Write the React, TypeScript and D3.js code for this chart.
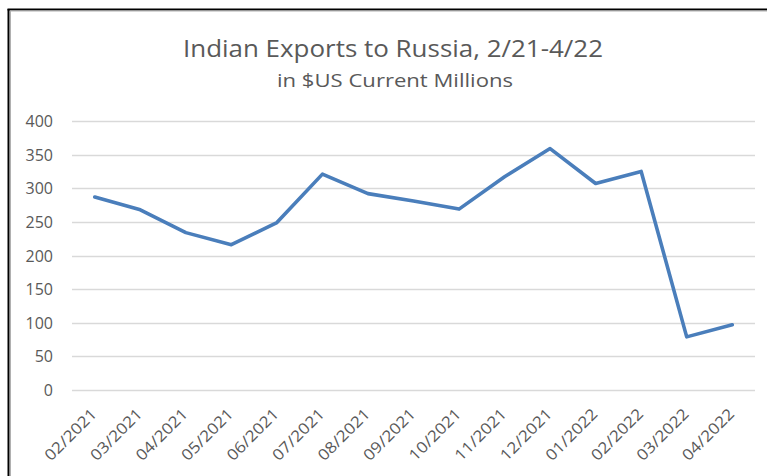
import React from "react";
import * as d3 from "d3";

const months = ["02/2021","03/2021","04/2021","05/2021","06/2021","07/2021","08/2021","09/2021","10/2021","11/2021","12/2021","01/2022","02/2022","03/2022","04/2022"];
const exportsUSD = [287, 268, 234, 216, 249, 321, 292, 281, 269, 317, 359, 307, 325, 79, 97];
const yTicks = [0, 50, 100, 150, 200, 250, 300, 350, 400];
const titleText = "Indian Exports to Russia, 2/21-4/22";
const subtitleText = "in $US Current Millions";

export default function App() {
  const W = 767, H = 476;
  const left = 72, right = 755, top = 121, bottom = 390;
  const x = d3.scaleBand<string>().domain(months).range([left, right]);
  const y = d3.scaleLinear().domain([0, 400]).range([bottom, top]);
  const line = d3.line<number>()
    .x((_, i) => (x(months[i]) as number) + x.bandwidth() / 2)
    .y((d) => y(d));
  const font = "'Open Sans', 'DejaVu Sans', sans-serif";
  const txt = "#595959";
  return (
    <svg width={W} height={H} style={{ position: "absolute", left: 0, top: 0, background: "#fff" }}>
      <rect x={0} y={0} width={W} height={H} fill="#fff" />
      {/* frame */}
      <line x1={7.5} y1={9.5} x2={W} y2={9.5} stroke="#000" strokeWidth={2} />
      <line x1={8.5} y1={9} x2={8.5} y2={H} stroke="#000" strokeWidth={2} />
      <line x1={10} y1={11} x2={W} y2={11} stroke="#b0b0b0" strokeWidth={1} />
      <line x1={10.5} y1={11} x2={10.5} y2={H} stroke="#b0b0b0" strokeWidth={1} />
      {/* titles */}
      <text x={393} y={57} textAnchor="middle" fontFamily={font} fontSize={23.5} fill={txt}
        textLength={420} lengthAdjust="spacingAndGlyphs">{titleText}</text>
      <text x={395} y={87} textAnchor="middle" fontFamily={font} fontSize={18.5} fill={txt}
        textLength={236} lengthAdjust="spacingAndGlyphs">{subtitleText}</text>
      {/* gridlines */}
      {yTicks.map((t) => (
        <g key={t}>
          <line x1={left} x2={right} y1={Math.round(y(t)) + 0.5} y2={Math.round(y(t)) + 0.5} stroke="#d9d9d9" strokeWidth={1.3} />
          <text x={53} y={y(t) + 6} textAnchor="end" fontFamily={font} fontSize={16} fill={txt}>{t}</text>
        </g>
      ))}
      {/* x labels */}
      {months.map((m) => {
        const cx = (x(m) as number) + x.bandwidth() / 2;
        return (
          <text key={m} transform={`translate(${cx + 3},${415}) rotate(-45)`} textAnchor="end"
            fontFamily={font} fontSize={15.5} fill={txt} textLength={66} lengthAdjust="spacingAndGlyphs">{m}</text>
        );
      })}
      {/* line */}
      <path d={line(exportsUSD) as string} fill="none" stroke="#4A7EBB" strokeWidth={3.6}
        strokeLinejoin="round" strokeLinecap="round" />
    </svg>
  );
}
